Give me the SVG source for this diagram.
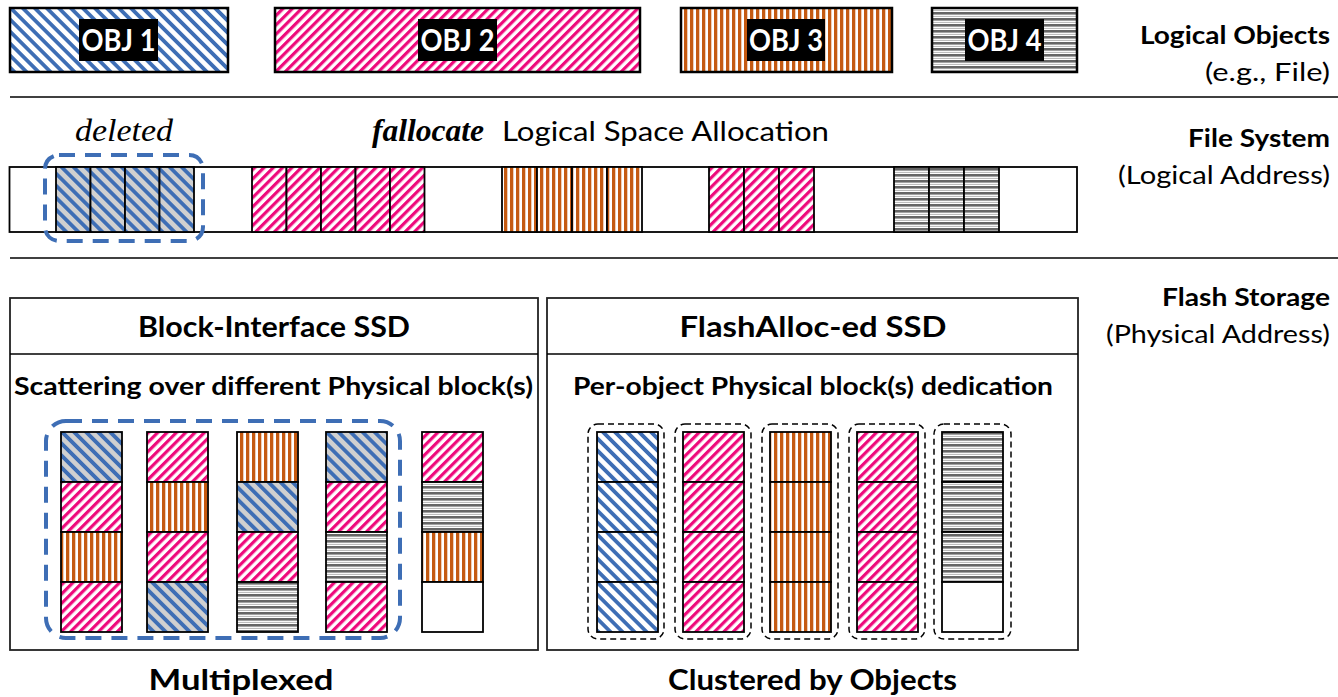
<svg xmlns="http://www.w3.org/2000/svg" width="1338" height="697" viewBox="0 0 1338 697">
<style>
.lbl{font-family:Lato,"Open Sans",sans-serif;fill:#000}
.b{font-weight:bold}
.obj{font-family:Lato,"Open Sans",sans-serif;font-weight:bold;fill:#fff;font-size:30px}
.frame{stroke:#000;stroke-width:2.5}
.cell{stroke:#000;stroke-width:1.8}
.box{fill:#fff;stroke:#222;stroke-width:1.8}
.bdash{fill:none;stroke:#3E6EB5;stroke-width:4;stroke-dasharray:16 10}
.kdash{fill:none;stroke:#000;stroke-width:1.5;stroke-dasharray:6 4}
.sep{stroke:#000;stroke-width:1.5}
</style>
<defs>
<pattern id="pBlue" patternUnits="userSpaceOnUse" width="8.5" height="8.5" patternTransform="rotate(-45)">
<rect width="8.5" height="8.5" fill="#fff"/><rect width="3.8" height="8.5" fill="#3E6EB5"/></pattern>
<pattern id="pDel" patternUnits="userSpaceOnUse" width="8.5" height="8.5" patternTransform="rotate(-45)">
<rect width="8.5" height="8.5" fill="#D0D0D0"/><rect width="3.8" height="8.5" fill="#3E6EB5"/></pattern>
<pattern id="pPink" patternUnits="userSpaceOnUse" width="6.6" height="6.6" patternTransform="rotate(45)">
<rect width="6.6" height="6.6" fill="#fff"/><rect width="3.2" height="6.6" fill="#EE0A7C"/></pattern>
<pattern id="pOrg" patternUnits="userSpaceOnUse" width="6" height="6">
<rect width="6" height="6" fill="#fff"/><rect width="3.3" height="6" fill="#C55A11"/></pattern>
<pattern id="pGry" patternUnits="userSpaceOnUse" width="6" height="6">
<rect width="6" height="6" fill="#fff"/><rect width="6" height="2.6" fill="#666"/><rect y="3.9" width="6" height="1.1" fill="#BDBDBD"/></pattern>
</defs>

<g id="logical-objects">
<g id="obj1"><rect x="10" y="8" width="218" height="64" fill="url(#pBlue)" class="frame"/><rect x="79" y="19" width="79" height="42" fill="#000"/><text class="obj" x="118.5" y="51" text-anchor="middle" textLength="74" lengthAdjust="spacingAndGlyphs">OBJ 1</text></g>
<g id="obj2"><rect x="275" y="8" width="365" height="64" fill="url(#pPink)" class="frame"/><rect x="418" y="19" width="79" height="42" fill="#000"/><text class="obj" x="457.5" y="51" text-anchor="middle" textLength="74" lengthAdjust="spacingAndGlyphs">OBJ 2</text></g>
<g id="obj3"><rect x="681" y="8" width="211" height="64" fill="url(#pOrg)" class="frame"/><rect x="747" y="19" width="78" height="42" fill="#000"/><text class="obj" x="786" y="51" text-anchor="middle" textLength="74" lengthAdjust="spacingAndGlyphs">OBJ 3</text></g>
<g id="obj4"><rect x="932" y="8" width="145" height="64" fill="url(#pGry)" class="frame"/><rect x="965" y="19" width="79" height="42" fill="#000"/><text class="obj" x="1004.5" y="51" text-anchor="middle" textLength="74" lengthAdjust="spacingAndGlyphs">OBJ 4</text></g>
</g>

<g id="layer-labels">
<text class="lbl b" x="1330" y="44" font-size="25" text-anchor="end" textLength="190" lengthAdjust="spacingAndGlyphs">Logical Objects</text>
<text class="lbl" x="1330" y="81" font-size="25" text-anchor="end" textLength="125" lengthAdjust="spacingAndGlyphs">(e.g., File)</text>
<text class="lbl b" x="1330" y="147" font-size="25" text-anchor="end" textLength="142" lengthAdjust="spacingAndGlyphs">File System</text>
<text class="lbl" x="1330" y="184" font-size="25" text-anchor="end" textLength="212" lengthAdjust="spacingAndGlyphs">(Logical Address)</text>
<text class="lbl b" x="1330" y="306" font-size="25" text-anchor="end" textLength="168" lengthAdjust="spacingAndGlyphs">Flash Storage</text>
<text class="lbl" x="1330" y="343" font-size="25" text-anchor="end" textLength="224" lengthAdjust="spacingAndGlyphs">(Physical Address)</text>
</g>

<g id="separators">
<line class="sep" x1="10" y1="97" x2="1338" y2="97"/>
<line class="sep" x1="10" y1="258" x2="1338" y2="258"/>
</g>

<g id="file-system">
<text x="124" y="141" font-family="'Liberation Serif',serif" font-style="italic" font-size="31" text-anchor="middle" textLength="98" lengthAdjust="spacingAndGlyphs">deleted</text>
<text x="372" y="141" font-family="'Liberation Serif',serif" font-style="italic" font-weight="bold" font-size="31" textLength="112" lengthAdjust="spacingAndGlyphs">fallocate</text>
<text class="lbl" x="502" y="141" font-size="27" textLength="327" lengthAdjust="spacingAndGlyphs">Logical Space Allocation</text>
<rect x="9.5" y="167" width="1067.5" height="65" fill="#fff" stroke="#000" stroke-width="1.8"/>
<g id="fs-deleted">
<rect class="cell" x="56" y="167" width="34.5" height="65" fill="url(#pDel)"/>
<rect class="cell" x="90.5" y="167" width="34.5" height="65" fill="url(#pDel)"/>
<rect class="cell" x="125" y="167" width="34.5" height="65" fill="url(#pDel)"/>
<rect class="cell" x="159.5" y="167" width="34.5" height="65" fill="url(#pDel)"/>
</g>
<g id="fs-obj2a">
<rect class="cell" x="252" y="167" width="34.5" height="65" fill="url(#pPink)"/>
<rect class="cell" x="286.5" y="167" width="34.5" height="65" fill="url(#pPink)"/>
<rect class="cell" x="321" y="167" width="34.5" height="65" fill="url(#pPink)"/>
<rect class="cell" x="355.5" y="167" width="34.5" height="65" fill="url(#pPink)"/>
<rect class="cell" x="390" y="167" width="34.5" height="65" fill="url(#pPink)"/>
</g>
<g id="fs-obj3">
<rect class="cell" x="502" y="167" width="35" height="65" fill="url(#pOrg)"/>
<rect class="cell" x="537" y="167" width="35" height="65" fill="url(#pOrg)"/>
<rect class="cell" x="572" y="167" width="35" height="65" fill="url(#pOrg)"/>
<rect class="cell" x="607" y="167" width="35" height="65" fill="url(#pOrg)"/>
</g>
<g id="fs-obj2b">
<rect class="cell" x="709" y="167" width="35" height="65" fill="url(#pPink)"/>
<rect class="cell" x="744" y="167" width="35" height="65" fill="url(#pPink)"/>
<rect class="cell" x="779" y="167" width="35" height="65" fill="url(#pPink)"/>
</g>
<g id="fs-obj4">
<rect class="cell" x="894" y="167" width="35" height="65" fill="url(#pGry)"/>
<rect class="cell" x="929" y="167" width="35" height="65" fill="url(#pGry)"/>
<rect class="cell" x="964" y="167" width="35" height="65" fill="url(#pGry)"/>
</g>
<rect class="bdash" x="45" y="155" width="158" height="86" rx="14"/>
</g>

<g id="block-ssd">
<rect class="box" x="10" y="298" width="528" height="352"/>
<line class="sep" x1="10" y1="354" x2="538" y2="354"/>
<text class="lbl b" x="274" y="337" font-size="28" text-anchor="middle" textLength="272" lengthAdjust="spacingAndGlyphs">Block-Interface SSD</text>
<text class="lbl b" x="273.5" y="395" font-size="25" text-anchor="middle" textLength="519" lengthAdjust="spacingAndGlyphs">Scattering over different Physical block(s)</text>
<g id="b-col1">
<rect class="cell" x="61" y="432" width="61" height="50" fill="url(#pDel)"/>
<rect class="cell" x="61" y="482" width="61" height="50" fill="url(#pPink)"/>
<rect class="cell" x="61" y="532" width="61" height="50" fill="url(#pOrg)"/>
<rect class="cell" x="61" y="582" width="61" height="50" fill="url(#pPink)"/>
</g>
<g id="b-col2">
<rect class="cell" x="147" y="432" width="61" height="50" fill="url(#pPink)"/>
<rect class="cell" x="147" y="482" width="61" height="50" fill="url(#pOrg)"/>
<rect class="cell" x="147" y="532" width="61" height="50" fill="url(#pPink)"/>
<rect class="cell" x="147" y="582" width="61" height="50" fill="url(#pDel)"/>
</g>
<g id="b-col3">
<rect class="cell" x="237" y="432" width="61" height="50" fill="url(#pOrg)"/>
<rect class="cell" x="237" y="482" width="61" height="50" fill="url(#pDel)"/>
<rect class="cell" x="237" y="532" width="61" height="50" fill="url(#pPink)"/>
<rect class="cell" x="237" y="582" width="61" height="50" fill="url(#pGry)"/>
</g>
<g id="b-col4">
<rect class="cell" x="326" y="432" width="61" height="50" fill="url(#pDel)"/>
<rect class="cell" x="326" y="482" width="61" height="50" fill="url(#pPink)"/>
<rect class="cell" x="326" y="532" width="61" height="50" fill="url(#pGry)"/>
<rect class="cell" x="326" y="582" width="61" height="50" fill="url(#pPink)"/>
</g>
<g id="b-col5">
<rect class="cell" x="422" y="432" width="61" height="50" fill="url(#pPink)"/>
<rect class="cell" x="422" y="482" width="61" height="50" fill="url(#pGry)"/>
<rect class="cell" x="422" y="532" width="61" height="50" fill="url(#pOrg)"/>
<rect class="cell" x="422" y="582" width="61" height="50" fill="#fff"/>
</g>
<rect class="bdash" x="46" y="421" width="354" height="217" rx="20"/>
<text class="lbl b" x="241" y="690" font-size="28" text-anchor="middle" textLength="185" lengthAdjust="spacingAndGlyphs">Multiplexed</text>
</g>

<g id="flashalloc-ssd">
<rect class="box" x="547" y="298" width="531" height="352"/>
<line class="sep" x1="547" y1="354" x2="1078" y2="354"/>
<text class="lbl b" x="813" y="337" font-size="28" text-anchor="middle" textLength="267" lengthAdjust="spacingAndGlyphs">FlashAlloc-ed SSD</text>
<text class="lbl b" x="813" y="395" font-size="25" text-anchor="middle" textLength="480" lengthAdjust="spacingAndGlyphs">Per-object Physical block(s) dedication</text>
<g id="f-col1">
<rect class="cell" x="597" y="432" width="61" height="50" fill="url(#pBlue)"/>
<rect class="cell" x="597" y="482" width="61" height="50" fill="url(#pBlue)"/>
<rect class="cell" x="597" y="532" width="61" height="50" fill="url(#pBlue)"/>
<rect class="cell" x="597" y="582" width="61" height="50" fill="url(#pBlue)"/>
<rect class="kdash" x="588" y="424" width="76" height="215" rx="10"/>
</g>
<g id="f-col2">
<rect class="cell" x="683" y="432" width="61" height="50" fill="url(#pPink)"/>
<rect class="cell" x="683" y="482" width="61" height="50" fill="url(#pPink)"/>
<rect class="cell" x="683" y="532" width="61" height="50" fill="url(#pPink)"/>
<rect class="cell" x="683" y="582" width="61" height="50" fill="url(#pPink)"/>
<rect class="kdash" x="675" y="424" width="76" height="215" rx="10"/>
</g>
<g id="f-col3">
<rect class="cell" x="770" y="432" width="61" height="50" fill="url(#pOrg)"/>
<rect class="cell" x="770" y="482" width="61" height="50" fill="url(#pOrg)"/>
<rect class="cell" x="770" y="532" width="61" height="50" fill="url(#pOrg)"/>
<rect class="cell" x="770" y="582" width="61" height="50" fill="url(#pOrg)"/>
<rect class="kdash" x="762" y="424" width="76" height="215" rx="10"/>
</g>
<g id="f-col4">
<rect class="cell" x="857" y="432" width="61" height="50" fill="url(#pPink)"/>
<rect class="cell" x="857" y="482" width="61" height="50" fill="url(#pPink)"/>
<rect class="cell" x="857" y="532" width="61" height="50" fill="url(#pPink)"/>
<rect class="cell" x="857" y="582" width="61" height="50" fill="url(#pPink)"/>
<rect class="kdash" x="849" y="424" width="76" height="215" rx="10"/>
</g>
<g id="f-col5">
<rect class="cell" x="942" y="432" width="61" height="50" fill="url(#pGry)"/>
<rect class="cell" x="942" y="482" width="61" height="50" fill="url(#pGry)"/>
<rect class="cell" x="942" y="532" width="61" height="50" fill="url(#pGry)"/>
<rect class="cell" x="942" y="582" width="61" height="50" fill="#fff"/>
<rect class="kdash" x="934" y="424" width="77" height="215" rx="10"/>
</g>
<text class="lbl b" x="812.5" y="690" font-size="28" text-anchor="middle" textLength="289" lengthAdjust="spacingAndGlyphs">Clustered by Objects</text>
</g>
</svg>
